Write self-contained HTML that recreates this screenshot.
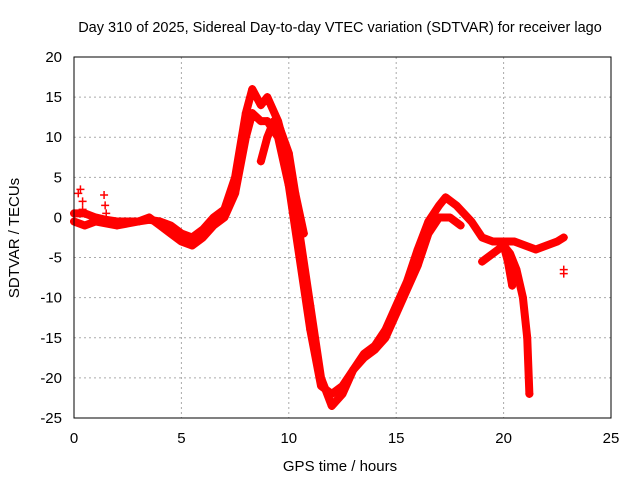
<!DOCTYPE html>
<html><head><meta charset="utf-8"><style>
body{margin:0;background:#fff}
svg text{font-family:"Liberation Sans",sans-serif;font-size:15px;fill:#000}
</style></head><body>
<svg id="chart" width="640" height="480" viewBox="0 0 640 480">
<rect width="640" height="480" fill="#fff"/>
<text x="340" y="32" text-anchor="middle" style="font-size:14.5px">Day 310 of 2025, Sidereal Day-to-day VTEC variation (SDTVAR) for receiver lago</text>
<g id="grid"></g><g id="axes"></g><g id="series"></g>
<rect x="74" y="57" width="537" height="361" fill="none" stroke="#000" stroke-width="1"/>
<text x="340" y="471" text-anchor="middle">GPS time / hours</text>
<text transform="translate(19,238) rotate(-90)" text-anchor="middle">SDTVAR / TECUs</text>
</svg>
<script>
const xTicks=[0,5,10,15,20,25];
const yTicks=[20,15,10,5,0,-5,-10,-15,-20,-25];
const trackA_t=[0,0.5,1,1.5,2,2.5,3,3.5,4,4.5,5,5.5,6,6.5,7,7.5,8,8.3,8.7,9,9.5,10,10.5,11,11.5,12,12.5,13,13.5,14,14.5,15,15.5,16,16.5,17,17.3,17.8,18.5,19,19.5,20,20.5,21,21.5,22,22.5,22.8];
const trackA_v=[0.5,0.5,0,-0.3,-0.5,-0.5,-0.5,-0.3,-0.5,-1,-2,-2.5,-1.5,0,1,5,13,16,14,15,12,7,-2,-11,-20,-23.5,-22,-19,-17,-16,-14,-11,-8,-4,-0.5,1.5,2.5,1.5,-0.5,-2.5,-3,-3,-3,-3.5,-4,-3.5,-3,-2.5];
const trackB_t=[0,0.5,1,2,3,3.5,4,4.5,5,5.5,6,6.5,7,7.5,8,8.3,8.7,9,9.5,10,10.5,11,11.5,12,12.5,13,13.5,14,14.5,15,15.5,16,16.5,17,17.5,18];
const trackB_v=[-0.5,-1,-0.5,-1,-0.5,0,-1,-2,-3,-3.5,-2.5,-1,0,3,10,13,12,12,10,4,-5,-14,-21,-22,-21,-19,-17.5,-16.5,-15,-12,-9,-6,-2,0,0,-1];
const trackC_t=[8.7,9,9.3,9.6,10,10.3,10.7];
const trackC_v=[7,10,12,11,8,3,-2];
const trackD_t=[19,19.5,20,20.3,20.6,20.9,21.1,21.2];
const trackD_v=[-5.5,-4.5,-3.5,-4.5,-6.5,-10,-15,-22];
const trackE_t=[20,20.2,20.4];
const trackE_v=[-3.5,-5.5,-8.5];
const spikes_t=[0.2,0.3,0.4,0.4,1.4,1.45,1.5,22.8,22.8];
const spikes_v=[3,3.5,2,1,2.8,1.5,0.5,-6.5,-7];
const X=t=>74+t*(537/25);
const Y=v=>57+(20-v)*(361/45);
const NS="http://www.w3.org/2000/svg";
function mk(tag,attrs,parent){const e=document.createElementNS(NS,tag);for(const k in attrs)e.setAttribute(k,attrs[k]);parent.appendChild(e);return e;}
const grid=document.getElementById('grid'),axes=document.getElementById('axes'),ser=document.getElementById('series');
xTicks.forEach(t=>{
 const g=mk('line',{x1:X(t),x2:X(t),y1:57,y2:418,stroke:'#aaa','stroke-dasharray':'2,3'},grid);
 
 
 const l=mk('text',{x:X(t),y:443,'text-anchor':'middle'},axes);l.textContent=t;
 
 
});
yTicks.forEach(v=>{
 const g=mk('line',{x1:74,x2:611,y1:Y(v),y2:Y(v),stroke:'#aaa','stroke-dasharray':'2,3'},grid);
 
 
 const l=mk('text',{x:62,y:Y(v)+5,'text-anchor':'end'},axes);l.textContent=v;
 
 
});
function track(ts,vs,name,line){
 if(line){
  const p=mk('path',{d:ts.map((t,i)=>(i?'L':'M')+X(t)+','+Y(vs[i])).join(''),fill:'none',stroke:'#f00','stroke-width':8,'stroke-linejoin':'round','stroke-linecap':'round'},ser);
  
  
 }
 ts.forEach((t,i)=>{
  const x=X(t),y=Y(vs[i]);
  const m=mk('path',{d:`M${x-4},${y}H${x+4}M${x},${y-4}V${y+4}`,stroke:'#f00','stroke-width':1.5},ser);
  
  
 });
}
track(trackA_t,trackA_v,'track-a',true);
track(trackB_t,trackB_v,'track-b',true);
track(trackC_t,trackC_v,'track-c',true);
track(trackD_t,trackD_v,'track-d',true);
track(trackE_t,trackE_v,'track-e',true);
track(spikes_t,spikes_v,'spike',false);
</script>
</body></html>
